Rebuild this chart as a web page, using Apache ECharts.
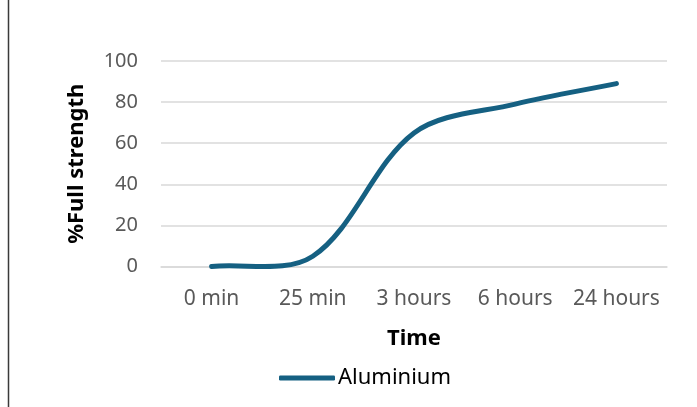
<!DOCTYPE html>
<html>
<head>
<meta charset="utf-8">
<script src="https://cdn.jsdelivr.net/npm/echarts@6/dist/echarts.min.js"></script>
<style>
html,body{margin:0;padding:0;background:#fff;}
#main{width:697px;height:407px;}
</style>
</head>
<body>
<div id="main"></div>
<script>
const categories = ['0 min', '25 min', '3 hours', '6 hours', '24 hours'];
const aluminium = [0, 5, 65, 79, 89];
const yTicks = [0, 20, 40, 60, 80, 100];
const seriesName = 'Aluminium';

const LINE_COLOR = '#156082';
const FONT = 'Noto Sans';

// Smoothed path through the data points (spreadsheet-style smoothing),
// positioned with the chart's own axes via api.coord.
function renderSmooth(params, api) {
  if (params.dataIndex !== 0) return null;
  const pts = aluminium.map((v, i) => api.coord([i, v]));
  const n = pts.length;
  const dist = (a, b) => Math.hypot(b[0] - a[0], b[1] - a[1]);
  const left = [], right = [];
  for (let i = 0; i < n; i++) {
    const p0 = pts[Math.max(i - 1, 0)];
    const p1 = pts[i];
    const p2 = pts[Math.min(i + 1, n - 1)];
    const tx = p2[0] - p0[0], ty = p2[1] - p0[1];
    const d01 = dist(p0, p1), d12 = dist(p1, p2);
    const tot = (d01 + d12) || 1;
    const kl = (1 / 3) * d01 / tot, kr = (1 / 3) * d12 / tot;
    left.push([p1[0] - tx * kl, p1[1] - ty * kl]);
    right.push([p1[0] + tx * kr, p1[1] + ty * kr]);
  }
  let d = 'M' + pts[0][0] + ' ' + pts[0][1];
  for (let i = 0; i < n - 1; i++) {
    d += ' C' + right[i][0] + ' ' + right[i][1] + ' ' + left[i + 1][0] + ' ' + left[i + 1][1] +
      ' ' + pts[i + 1][0] + ' ' + pts[i + 1][1];
  }
  return {
    type: 'path',
    shape: {pathData: d},
    style: {fill: null, stroke: LINE_COLOR, lineWidth: 5, lineCap: 'round', lineJoin: 'round'}
  };
}

const chart = echarts.init(document.getElementById('main'), null, {renderer: 'canvas'});
chart.setOption({
  animation: false,
  backgroundColor: '#ffffff',
  graphic: [{
    type: 'line',
    shape: {x1: 8.5, y1: 0, x2: 8.5, y2: 407},
    style: {stroke: '#3a3a3a', lineWidth: 1.5}
  }],
  grid: {left: 161, right: 30, top: 61, bottom: 140.5},
  legend: {
    data: [{name: seriesName, icon: 'roundRect'}],
    left: 274,
    top: 362,
    itemWidth: 56,
    itemHeight: 5,
    itemGap: 0,
    textStyle: {fontFamily: FONT, fontSize: 22, color: '#000', padding: [0, 0, 0, -2]}
  },
  xAxis: {
    type: 'category',
    data: categories,
    boundaryGap: true,
    name: 'Time',
    nameLocation: 'middle',
    nameGap: 61,
    nameTextStyle: {fontFamily: FONT, fontSize: 22, fontWeight: 'bold', color: '#000'},
    axisLine: {show: true, lineStyle: {color: '#d9d9d9', width: 1.5}},
    axisTick: {show: false},
    axisLabel: {fontFamily: FONT, fontSize: 21, color: '#595959', margin: 22, interval: 0}
  },
  yAxis: {
    type: 'value',
    min: yTicks[0],
    max: yTicks[yTicks.length - 1],
    interval: yTicks[1] - yTicks[0],
    name: '%Full strength',
    nameLocation: 'middle',
    nameRotate: 90,
    nameGap: 73,
    nameTextStyle: {fontFamily: FONT, fontSize: 22, fontWeight: 'bold', color: '#000'},
    axisLine: {show: false},
    axisTick: {show: false},
    axisLabel: {fontFamily: FONT, fontSize: 20, color: '#595959', margin: 23},
    splitLine: {lineStyle: {color: '#d9d9d9', width: 1.5}}
  },
  series: [{
    name: seriesName,
    type: 'custom',
    data: aluminium.map((v, i) => [i, v]),
    encode: {x: 0, y: 1},
    renderItem: renderSmooth,
    itemStyle: {color: LINE_COLOR}
  }]
});
</script>
</body>
</html>
